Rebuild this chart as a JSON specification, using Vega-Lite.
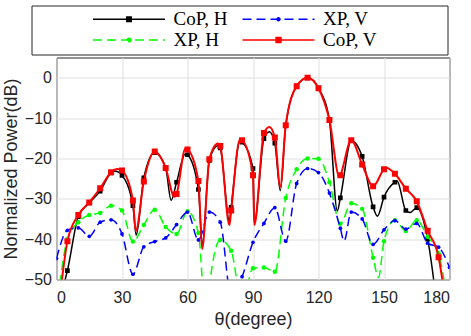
{
  "$schema": "https://vega.github.io/schema/vega-lite/v6.json",
  "width": 393,
  "height": 222,
  "autosize": "none",
  "padding": {"left": 56.5, "top": 57.5, "right": 21.5, "bottom": 56.5},
  "background": "#ffffff",
  "datasets": {
    "curve": [
      {"s":"CoP, H","x":0,"y":-65},{"s":"CoP, H","x":4,"y":-50},{"s":"CoP, H","x":5,"y":-47.8},{"s":"CoP, H","x":10,"y":-34.4},{"s":"CoP, H","x":15,"y":-31},{"s":"CoP, H","x":20,"y":-28.1},{"s":"CoP, H","x":25,"y":-23.6},{"s":"CoP, H","x":27,"y":-23.2},{"s":"CoP, H","x":30,"y":-24.2},{"s":"CoP, H","x":35,"y":-31.7},{"s":"CoP, H","x":36.5,"y":-39},{"s":"CoP, H","x":40,"y":-24.8},{"s":"CoP, H","x":45,"y":-18.6},{"s":"CoP, H","x":50,"y":-22.3},{"s":"CoP, H","x":52.5,"y":-30.4},{"s":"CoP, H","x":55,"y":-25.9},{"s":"CoP, H","x":59,"y":-18.9},{"s":"CoP, H","x":60,"y":-19.1},{"s":"CoP, H","x":65,"y":-27.7},{"s":"CoP, H","x":66.8,"y":-41},{"s":"CoP, H","x":70,"y":-20.5},{"s":"CoP, H","x":74,"y":-16.8},{"s":"CoP, H","x":75,"y":-17.4},{"s":"CoP, H","x":79.2,"y":-35.5},{"s":"CoP, H","x":80,"y":-32.1},{"s":"CoP, H","x":84,"y":-15.8},{"s":"CoP, H","x":85,"y":-16},{"s":"CoP, H","x":90,"y":-22.5},{"s":"CoP, H","x":90.6,"y":-36},{"s":"CoP, H","x":95,"y":-15.1},{"s":"CoP, H","x":97.5,"y":-13.4},{"s":"CoP, H","x":100,"y":-16.2},{"s":"CoP, H","x":102.5,"y":-28},{"s":"CoP, H","x":105,"y":-11.8},{"s":"CoP, H","x":110,"y":-2.1},{"s":"CoP, H","x":115,"y":0},{"s":"CoP, H","x":120,"y":-2.6},{"s":"CoP, H","x":125,"y":-10.5},{"s":"CoP, H","x":128.6,"y":-33},{"s":"CoP, H","x":130,"y":-29.8},{"s":"CoP, H","x":135,"y":-15.6},{"s":"CoP, H","x":140,"y":-19.5},{"s":"CoP, H","x":145,"y":-32},{"s":"CoP, H","x":147,"y":-34.3},{"s":"CoP, H","x":150,"y":-29.6},{"s":"CoP, H","x":155,"y":-25.9},{"s":"CoP, H","x":156,"y":-25.6},{"s":"CoP, H","x":160,"y":-32.9},{"s":"CoP, H","x":162,"y":-33.4},{"s":"CoP, H","x":165,"y":-32.2},{"s":"CoP, H","x":170,"y":-40},{"s":"CoP, H","x":175,"y":-60},
      {"s":"XP, H","x":0,"y":-58},{"s":"XP, H","x":5,"y":-40},{"s":"XP, H","x":10,"y":-35.8},{"s":"XP, H","x":15,"y":-34},{"s":"XP, H","x":20,"y":-33.5},{"s":"XP, H","x":25,"y":-31.7},{"s":"XP, H","x":30,"y":-32.9},{"s":"XP, H","x":35,"y":-40.6},{"s":"XP, H","x":40,"y":-36.5},{"s":"XP, H","x":45,"y":-32.7},{"s":"XP, H","x":50,"y":-37},{"s":"XP, H","x":55,"y":-38.7},{"s":"XP, H","x":60,"y":-33.1},{"s":"XP, H","x":65,"y":-38.5},{"s":"XP, H","x":68.5,"y":-60},{"s":"XP, H","x":70,"y":-52},{"s":"XP, H","x":75,"y":-40.2},{"s":"XP, H","x":80,"y":-42.9},{"s":"XP, H","x":85,"y":-56},{"s":"XP, H","x":90,"y":-47.2},{"s":"XP, H","x":95,"y":-47},{"s":"XP, H","x":100,"y":-48.1},{"s":"XP, H","x":105,"y":-29.8},{"s":"XP, H","x":110,"y":-22.7},{"s":"XP, H","x":115,"y":-20},{"s":"XP, H","x":120,"y":-20.1},{"s":"XP, H","x":125,"y":-25.9},{"s":"XP, H","x":130,"y":-36.2},{"s":"XP, H","x":135,"y":-31.1},{"s":"XP, H","x":140,"y":-32.5},{"s":"XP, H","x":145,"y":-44.6},{"s":"XP, H","x":147.5,"y":-49.5},{"s":"XP, H","x":150,"y":-40.5},{"s":"XP, H","x":155,"y":-35.3},{"s":"XP, H","x":160,"y":-38},{"s":"XP, H","x":165,"y":-35.3},{"s":"XP, H","x":170,"y":-39.4},{"s":"XP, H","x":175,"y":-43.5},{"s":"XP, H","x":180,"y":-60},
      {"s":"XP, V","x":0,"y":-44.8},{"s":"XP, V","x":5,"y":-37.8},{"s":"XP, V","x":10,"y":-37.2},{"s":"XP, V","x":15,"y":-39.3},{"s":"XP, V","x":20,"y":-35.8},{"s":"XP, V","x":25,"y":-35.2},{"s":"XP, V","x":30,"y":-38.7},{"s":"XP, V","x":35,"y":-48.7},{"s":"XP, V","x":40,"y":-41.9},{"s":"XP, V","x":45,"y":-40.6},{"s":"XP, V","x":50,"y":-39.7},{"s":"XP, V","x":55,"y":-36.4},{"s":"XP, V","x":60,"y":-33.3},{"s":"XP, V","x":65,"y":-40.2},{"s":"XP, V","x":70,"y":-33.3},{"s":"XP, V","x":75,"y":-35.8},{"s":"XP, V","x":80,"y":-54},{"s":"XP, V","x":85,"y":-49.3},{"s":"XP, V","x":90,"y":-40.8},{"s":"XP, V","x":95,"y":-36.1},{"s":"XP, V","x":100,"y":-32.2},{"s":"XP, V","x":105,"y":-40.5},{"s":"XP, V","x":110,"y":-26.2},{"s":"XP, V","x":115,"y":-22.5},{"s":"XP, V","x":120,"y":-23.5},{"s":"XP, V","x":125,"y":-28.6},{"s":"XP, V","x":130,"y":-37.3},{"s":"XP, V","x":131.7,"y":-40.5},{"s":"XP, V","x":135,"y":-33.3},{"s":"XP, V","x":140,"y":-35},{"s":"XP, V","x":145,"y":-41.3},{"s":"XP, V","x":150,"y":-37.7},{"s":"XP, V","x":155,"y":-35.4},{"s":"XP, V","x":160,"y":-37.5},{"s":"XP, V","x":165,"y":-36.1},{"s":"XP, V","x":170,"y":-41},{"s":"XP, V","x":175,"y":-42},{"s":"XP, V","x":180,"y":-47},
      {"s":"CoP, V","x":0,"y":-62},{"s":"CoP, V","x":2.5,"y":-50},{"s":"CoP, V","x":5,"y":-40.5},{"s":"CoP, V","x":10,"y":-34},{"s":"CoP, V","x":15,"y":-30.9},{"s":"CoP, V","x":20,"y":-27.4},{"s":"CoP, V","x":25,"y":-23.4},{"s":"CoP, V","x":28,"y":-22.6},{"s":"CoP, V","x":30,"y":-23},{"s":"CoP, V","x":35,"y":-30.4},{"s":"CoP, V","x":36.3,"y":-38},{"s":"CoP, V","x":40,"y":-25.7},{"s":"CoP, V","x":45,"y":-18.3},{"s":"CoP, V","x":50,"y":-22.4},{"s":"CoP, V","x":54,"y":-29.5},{"s":"CoP, V","x":55,"y":-28.8},{"s":"CoP, V","x":59,"y":-17.6},{"s":"CoP, V","x":60,"y":-17.8},{"s":"CoP, V","x":65,"y":-25.6},{"s":"CoP, V","x":66.7,"y":-42.5},{"s":"CoP, V","x":70,"y":-20.2},{"s":"CoP, V","x":74,"y":-16.3},{"s":"CoP, V","x":75,"y":-16.9},{"s":"CoP, V","x":79.2,"y":-36.5},{"s":"CoP, V","x":80,"y":-32.9},{"s":"CoP, V","x":84,"y":-15.3},{"s":"CoP, V","x":85,"y":-15.5},{"s":"CoP, V","x":90,"y":-24.2},{"s":"CoP, V","x":90.6,"y":-36.5},{"s":"CoP, V","x":95,"y":-13.7},{"s":"CoP, V","x":97.5,"y":-12.2},{"s":"CoP, V","x":100,"y":-14.8},{"s":"CoP, V","x":102.5,"y":-27},{"s":"CoP, V","x":105,"y":-11.8},{"s":"CoP, V","x":110,"y":-2.1},{"s":"CoP, V","x":115,"y":0},{"s":"CoP, V","x":120,"y":-2.6},{"s":"CoP, V","x":125,"y":-10.5},{"s":"CoP, V","x":129.6,"y":-24.6},{"s":"CoP, V","x":130,"y":-24.2},{"s":"CoP, V","x":135,"y":-15.5},{"s":"CoP, V","x":140,"y":-21.5},{"s":"CoP, V","x":145,"y":-26.9},{"s":"CoP, V","x":150,"y":-22.7},{"s":"CoP, V","x":151,"y":-22.3},{"s":"CoP, V","x":155,"y":-23.8},{"s":"CoP, V","x":160,"y":-27.5},{"s":"CoP, V","x":165,"y":-30.6},{"s":"CoP, V","x":170,"y":-37.9},{"s":"CoP, V","x":175,"y":-44.5},{"s":"CoP, V","x":177,"y":-51},{"s":"CoP, V","x":180,"y":-62}
    ]
  },
  "layer": [
    {
      "mark": {"type": "rule", "color": "#707070", "strokeWidth": 1.5, "strokeDash": [9, 5]},
      "encoding": {"y": {"datum": -19.7, "type": "quantitative"}}
    },
    {
      "encoding": {
        "x": {"field": "x", "type": "quantitative",
          "scale": {"domain": [0, 180], "nice": false, "zero": false},
          "axis": {"values": [0, 30, 60, 90, 120, 150, 180], "labelPadding": 10, "title": "θ(degree)", "titlePadding": 5}},
        "y": {"field": "y", "type": "quantitative",
          "scale": {"domain": [-50, 5], "nice": false, "zero": false},
          "axis": {"values": [-50, -40, -30, -20, -10, 0], "labelPadding": 5, "title": "Normalized Power(dB)", "titlePadding": 4}}
      },
      "layer": [
        {"data": {"name": "curve"}, "transform": [{"filter": "datum.s === 'CoP, H'"}],
         "mark": {"type": "line", "color": "#000000", "strokeWidth": 1.5, "interpolate": "monotone", "clip": true}},
        {"data": {"name": "curve"}, "transform": [{"filter": "datum.s === 'CoP, H' && datum.x % 5 === 0"}],
         "mark": {"type": "point", "shape": "square", "filled": true, "color": "#000000", "size": 22, "opacity": 1, "clip": true}},
        {"data": {"name": "curve"}, "transform": [{"filter": "datum.s === 'XP, H'"}],
         "mark": {"type": "line", "color": "#00ff00", "strokeWidth": 1.5, "strokeDash": [9, 5], "interpolate": "monotone", "clip": true}},
        {"data": {"name": "curve"}, "transform": [{"filter": "datum.s === 'XP, H' && datum.x % 5 === 0"}],
         "mark": {"type": "point", "shape": "circle", "filled": true, "color": "#00ff00", "size": 20, "opacity": 1, "clip": true}},
        {"data": {"name": "curve"}, "transform": [{"filter": "datum.s === 'XP, V'"}],
         "mark": {"type": "line", "color": "#0000ff", "strokeWidth": 1.5, "strokeDash": [9, 5], "interpolate": "monotone", "clip": true}},
        {"data": {"name": "curve"}, "transform": [{"filter": "datum.s === 'XP, V' && datum.x % 5 === 0"}],
         "mark": {"type": "point", "shape": "circle", "filled": true, "color": "#0000ff", "size": 14, "opacity": 1, "clip": true}},
        {"data": {"name": "curve"}, "transform": [{"filter": "datum.s === 'CoP, V'"}],
         "mark": {"type": "line", "color": "#ff0000", "strokeWidth": 2, "interpolate": "monotone", "clip": true}},
        {"data": {"name": "curve"}, "transform": [{"filter": "datum.s === 'CoP, V' && datum.x % 5 === 0"}],
         "mark": {"type": "point", "shape": "square", "filled": true, "color": "#ff0000", "size": 36, "opacity": 1, "clip": true}},
        {"data": {"name": "curve"}, "transform": [{"filter": "false"}],
         "mark": {"type": "point", "opacity": 1},
         "encoding": {
           "fill": {"field": "s", "type": "nominal",
             "scale": {"domain": ["CoP, H", "XP, H", "XP, V", "CoP, V"], "range": ["#000000", "#00ff00", "#0000ff", "#ff0000"]},
             "legend": {"title": " ", "titleOrient": "left", "titlePadding": 57.5, "titleFont": "Liberation Serif", "titleFontSize": 19, "orient": "none", "legendX": -25, "legendY": -52, "direction": "vertical", "columns": 2, "columnPadding": 11.5, "rowPadding": 1, "padding": 4, "strokeColor": "#262626", "fillColor": "#ffffff", "symbolSize": 4, "symbolStrokeWidth": 1.5, "symbolOffset": 26.5, "labelOffset": 35, "labelFont": "Liberation Serif", "labelFontSize": 19, "labelColor": "#000000", "symbolOpacity": 1, "labelLimit": 300}},
           "stroke": {"field": "s", "type": "nominal",
             "scale": {"domain": ["CoP, H", "XP, H", "XP, V", "CoP, V"], "range": ["#000000", "#00ff00", "#0000ff", "#ff0000"]},
             "legend": {"title": " ", "titleOrient": "left", "titlePadding": 57.5, "titleFont": "Liberation Serif", "titleFontSize": 19, "orient": "none", "legendX": -25, "legendY": -52, "direction": "vertical", "columns": 2, "columnPadding": 11.5, "rowPadding": 1, "padding": 4, "strokeColor": "#262626", "fillColor": "#ffffff", "symbolSize": 4, "symbolStrokeWidth": 1.5, "symbolOffset": 26.5, "labelOffset": 35, "labelFont": "Liberation Serif", "labelFontSize": 19, "labelColor": "#000000", "symbolOpacity": 1, "labelLimit": 300}},
           "shape": {"field": "s", "type": "nominal",
             "scale": {"domain": ["CoP, H", "XP, H", "XP, V", "CoP, V"], "range": [
               "M-36,0H36M-2.2,-2.2H2.2V2.2H-2.2Z",
               "M-36,0H36M-1.8,0A1.8,1.8,0,1,1,1.8,0A1.8,1.8,0,1,1,-1.8,0Z",
               "M-36,0H36M-1.5,0A1.5,1.5,0,1,1,1.5,0A1.5,1.5,0,1,1,-1.5,0ZM161.7,0",
               "M-36,0H36M-2.4,-2.4H2.4V2.4H-2.4ZM161.7,0"]},
             "legend": {"title": " ", "titleOrient": "left", "titlePadding": 57.5, "titleFont": "Liberation Serif", "titleFontSize": 19, "orient": "none", "legendX": -25, "legendY": -52, "direction": "vertical", "columns": 2, "columnPadding": 11.5, "rowPadding": 1, "padding": 4, "strokeColor": "#262626", "fillColor": "#ffffff", "symbolSize": 4, "symbolStrokeWidth": 1.5, "symbolOffset": 26.5, "labelOffset": 35, "labelFont": "Liberation Serif", "labelFontSize": 19, "labelColor": "#000000", "symbolOpacity": 1, "labelLimit": 300}},
           "strokeDash": {"field": "s", "type": "nominal",
             "scale": {"domain": ["CoP, H", "XP, H", "XP, V", "CoP, V"], "range": [[1, 0], [9, 5], [9, 5], [1, 0]]},
             "legend": {"title": " ", "titleOrient": "left", "titlePadding": 57.5, "titleFont": "Liberation Serif", "titleFontSize": 19, "orient": "none", "legendX": -25, "legendY": -52, "direction": "vertical", "columns": 2, "columnPadding": 11.5, "rowPadding": 1, "padding": 4, "strokeColor": "#262626", "fillColor": "#ffffff", "symbolSize": 4, "symbolStrokeWidth": 1.5, "symbolOffset": 26.5, "labelOffset": 35, "labelFont": "Liberation Serif", "labelFontSize": 19, "labelColor": "#000000", "symbolOpacity": 1, "labelLimit": 300}}
         }}
      ]
    }
  ],
  "config": {
    "view": {"stroke": "#262626", "strokeWidth": 1},
    "axis": {"domain": false, "ticks": false, "tickSize": 0, "grid": true, "gridColor": "#dfdfdf", "gridWidth": 1,
      "labelFont": "Liberation Sans", "labelFontSize": 16, "labelColor": "#262626",
      "titleFont": "Liberation Sans", "titleFontSize": 18, "titleFontWeight": "normal", "titleColor": "#262626"}
  }
}
